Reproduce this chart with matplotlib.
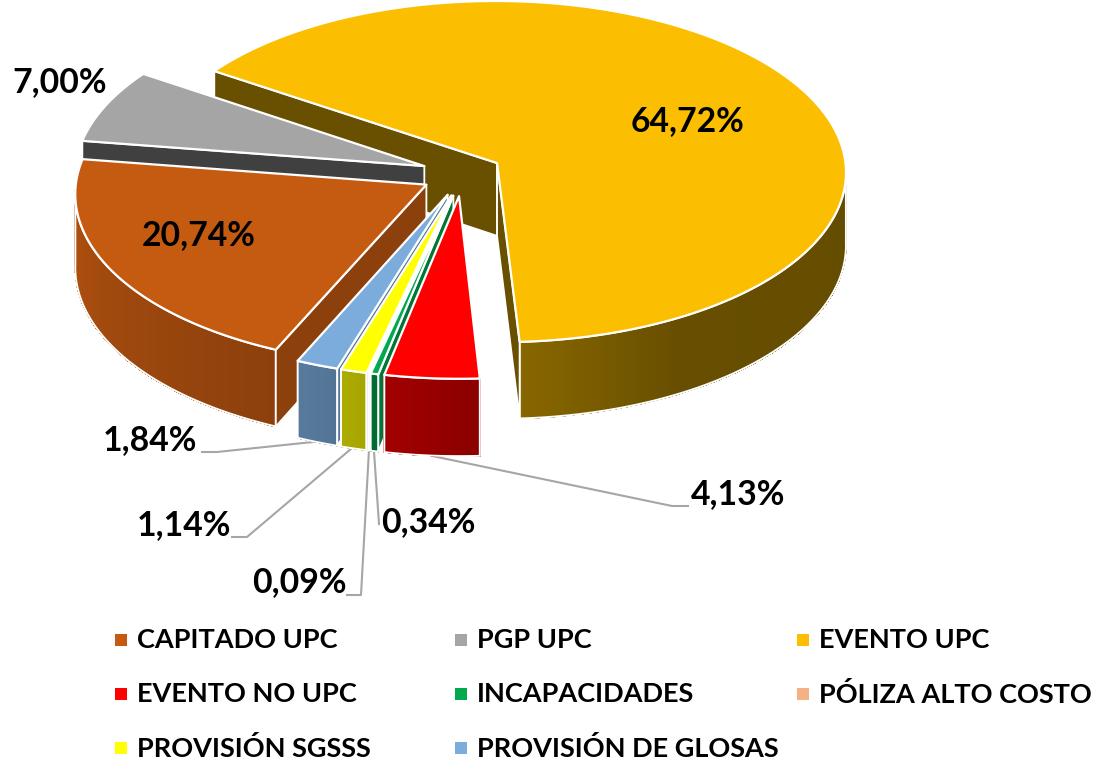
import matplotlib
matplotlib.use('Agg')
import matplotlib.pyplot as plt
from matplotlib.patches import Polygon, Rectangle
import numpy as np

# data, clockwise order as in the legend
categories = ['CAPITADO UPC', 'PGP UPC', 'EVENTO UPC', 'EVENTO NO UPC', 'INCAPACIDADES',
              'PÓLIZA ALTO COSTO', 'PROVISIÓN SGSSS', 'PROVISIÓN DE GLOSAS']
values = [20.74, 7.00, 64.72, 4.13, 0.34, 0.09, 1.14, 1.84]
colors = ['#C55A11', '#A5A5A5', '#FBBE00', '#FF0000', '#00A84F', '#F4B183', '#FFFF00', '#7BACDC']
face_shade = [0.71, 0.39, 0.42, 0.6, 0.7, 0.7, 0.7, 0.7]

# label centres and the elbow of the leader line, in pixels (None = no leader)
label_pos = [(199, 235), (60, 82), (688, 121), (738, 494), (428, 522), (299, 582), (184, 525), (150, 440)]
leader_elbow = [None, None, None, [(672, 506), (688, 506)], [(379, 524)], [(361, 595), (347, 595)],
                [(247, 537), (232, 537)], [(217, 452), (202, 452)]]

# pie geometry
CX, CY = 462, 174
RADIUS = 349.5
TILT = 0.49
PERSP = 0.05
EXPLODE = 40.5
EXPLODE_Y = 1.11
DEPTH = 73
START = 246.1

# wall lighting by angle
SHADE_ANGLE = [172, 247, 274, 300, 370]
SHADE_VALUE = [0.92, 0.71, 0.54, 0.41, 0.40]

FONT = 'Lato'
LABEL_SIZE = 24.3
LEGEND_SIZE = 19.5


def project(x, y, drop=0.0):
    w = 1 + PERSP * y / RADIUS
    return CX + x / w, CY - TILT * y / w + drop / w


def darker(color, f):
    r, g, b = matplotlib.colors.to_rgb(color)
    return (r * f, g * f, b * f)


def draw_wedge(ax, a0, a1, color, shade):
    # a0 > a1, clockwise
    mid = np.radians((a0 + a1) / 2)
    ox, oy = EXPLODE * np.cos(mid), EXPLODE * EXPLODE_Y * np.sin(mid)
    th = np.radians(np.linspace(a0, a1, max(int(a0 - a1) * 2, 8)))
    rx = ox + RADIUS * np.cos(th)
    ry = oy + RADIUS * np.sin(th)

    apex = project(ox, oy)
    apex_low = project(ox, oy, DEPTH)
    tx, ty = project(rx, ry)
    bx, by = project(rx, ry, DEPTH)

    # outer wall, only the part facing us
    idx = np.where(np.sin(th) <= -0.03)[0]
    if len(idx) > 1:
        for i, j in zip(idx[:-1], idx[1:]):
            deg = np.degrees(th[i]) % 360
            if deg < 100:
                deg += 360
            f = np.interp(deg, SHADE_ANGLE, SHADE_VALUE)
            ax.add_patch(Polygon([(tx[i], ty[i]), (tx[j], ty[j]), (bx[j], by[j]), (bx[i], by[i])],
                                 facecolor=darker(color, f), edgecolor=darker(color, f), lw=0.6,
                                 antialiased=False))
        outline = list(zip(tx[idx], ty[idx])) + list(zip(bx[idx][::-1], by[idx][::-1]))
        ax.add_patch(Polygon(outline, fill=False, edgecolor='white', lw=1.4))

    # straight faces, only the ones that look down towards us
    if np.cos(np.radians(a0)) < 0:
        ax.add_patch(Polygon([apex, (tx[0], ty[0]), (bx[0], by[0]), apex_low],
                             facecolor=darker(color, shade), edgecolor='white', lw=1.3))
    if np.cos(np.radians(a1)) > 0:
        ax.add_patch(Polygon([apex, (tx[-1], ty[-1]), (bx[-1], by[-1]), apex_low],
                             facecolor=darker(color, shade), edgecolor='white', lw=1.3))

    # top
    top = [apex] + list(zip(tx, ty))
    ax.add_patch(Polygon(top, facecolor=color, edgecolor='white', lw=1.6, joinstyle='round'))

    mid_low = len(th) // 2
    return bx[mid_low], by[mid_low]


def main():
    fig = plt.figure(figsize=(10.97, 7.61), dpi=100)
    ax = fig.add_axes([0, 0, 1, 1])
    ax.set_xlim(0, 1097)
    ax.set_ylim(761, 0)
    ax.axis('off')

    spans = np.array(values) / sum(values) * 360
    starts = START - np.concatenate(([0], np.cumsum(spans)[:-1]))
    order = [2, 1, 0, 7, 6, 5, 4, 3]
    anchors = {}
    for i in order:
        anchors[i] = draw_wedge(ax, starts[i], starts[i] - spans[i], colors[i], face_shade[i])

    for i, v in enumerate(values):
        text = f'{v:.2f}'.replace('.', ',') + '%'
        ax.text(label_pos[i][0], label_pos[i][1], text, family=FONT, weight='bold',
                fontsize=LABEL_SIZE, ha='center', va='center', color='black')
        if leader_elbow[i]:
            pts = [anchors[i]] + leader_elbow[i]
            ax.plot([p[0] for p in pts], [p[1] for p in pts], color='#A6A6A6', lw=1.5, zorder=0.5)

    # legend
    col_x = [115, 455, 797]
    row_y = [640, 694, 748]
    for i, name in enumerate(categories):
        x = col_x[i % 3]
        y = row_y[i // 3]
        ax.add_patch(Rectangle((x, y - 6), 12, 12, facecolor=colors[i], edgecolor='none'))
        ax.text(x + 22, y + 0.5, name, family=FONT, weight='bold', fontsize=LEGEND_SIZE,
                ha='left', va='center', color='black')

    fig.savefig('out.png', dpi=100)


if __name__ == '__main__':
    main()
